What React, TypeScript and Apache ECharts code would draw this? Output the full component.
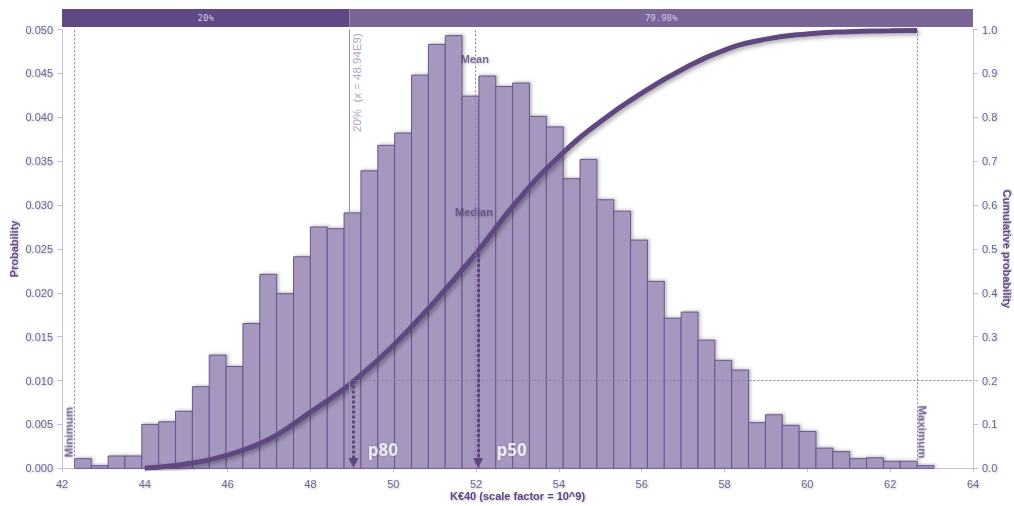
import React, { useEffect, useRef } from "react";
import * as echarts from "echarts";

// ---- data ----
const X_MIN = 42;
const X_MAX = 64;
const X_STEP = 2;
const BIN_START = 42.3;
const BIN_WIDTH = 0.407;
const probabilities = [
  0.0011, 0.0003, 0.0014, 0.0014, 0.005, 0.0053, 0.0065, 0.0093, 0.0129, 0.0116,
  0.0165, 0.0221, 0.0199, 0.0241, 0.0275, 0.0273, 0.0291, 0.0339, 0.0368, 0.0382,
  0.0448, 0.0483, 0.0493, 0.0424, 0.0447, 0.0435, 0.0439, 0.0401, 0.0389, 0.033,
  0.0352, 0.0306, 0.0293, 0.026, 0.0213, 0.0171, 0.0178, 0.0146, 0.0123, 0.0112,
  0.0052, 0.0061, 0.0049, 0.0042, 0.0023, 0.0019, 0.0011, 0.0012, 0.0008, 0.0008,
  0.0003,
];
const cdfX = [44, 44.5, 45, 45.5, 46, 46.5, 47, 47.5, 48, 48.5, 49, 50, 51, 52, 53, 54, 55, 56, 57, 58, 59, 60, 61, 62, 62.65];
const cdfY = [0, 0.004, 0.01, 0.018, 0.03, 0.046, 0.066, 0.095, 0.128, 0.16, 0.195, 0.28, 0.38, 0.49, 0.61, 0.71, 0.79, 0.855, 0.91, 0.953, 0.978, 0.99, 0.995, 0.997, 0.998];

const bandStarts = [42, 48.94];
const bandEnds = [48.94, 64];
const bandLabels = ["20%", "79.98%"];
const bandColors = ["#5f4883", "#7b6596"];

const MINIMUM = 42.3;
const MAXIMUM = 62.65;
const MEAN = 51.97;
const THRESHOLD_X = 48.94;
const THRESHOLD_P = 0.2;
const P80_X = 49.04;
const P50_X = 52.05;
const P50_P = 0.5;

const FONT = "'Liberation Sans', Arial, sans-serif";
const PURPLE = "#5e4680";
const LABEL_COLOR = "#6f6392";
const AXIS_COLOR = "#c6bed8";

const textShadow = {
  textShadowColor: "rgba(0,0,0,0.25)",
  textShadowBlur: 2,
  textShadowOffsetX: 1,
  textShadowOffsetY: 1,
};

function buildOption() {
  const binData = probabilities.map((v, i) => [
    BIN_START + i * BIN_WIDTH,
    BIN_START + (i + 1) * BIN_WIDTH,
    v,
  ]);
  const bandData = bandStarts.map((s, i) => [s, bandEnds[i], i]);
  const cdfData = cdfX.map((x, i) => [x, cdfY[i]]);

  return {
    animation: false,
    grid: [
      { left: 62, right: 41, top: 29.5, bottom: 37.7, outerBoundsMode: "none", containLabel: false },
      { left: 62, right: 41, top: 9, height: 18, outerBoundsMode: "none", containLabel: false },
    ],
    xAxis: [
      {
        type: "value",
        gridIndex: 0,
        min: X_MIN,
        max: X_MAX,
        interval: X_STEP,
        splitLine: { show: false },
        axisLine: { lineStyle: { color: AXIS_COLOR } },
        axisTick: { length: 4, lineStyle: { color: AXIS_COLOR } },
        axisLabel: { color: LABEL_COLOR, fontSize: 11, fontFamily: FONT, margin: 10, ...textShadow },
        name: "K€40 (scale factor = 10^9)",
        nameLocation: "middle",
        nameGap: 22,
        nameMoveOverlap: false,
        nameTextStyle: { color: PURPLE, fontSize: 11, fontWeight: "bold", fontFamily: FONT, ...textShadow },
      },
      { type: "value", gridIndex: 1, min: X_MIN, max: X_MAX, show: false },
    ],
    yAxis: [
      {
        type: "value",
        gridIndex: 0,
        position: "left",
        min: 0,
        max: 0.05,
        interval: 0.005,
        splitLine: { show: false },
        axisLine: { show: true, lineStyle: { color: AXIS_COLOR } },
        axisTick: { show: true, length: 5, lineStyle: { color: AXIS_COLOR } },
        axisLabel: {
          color: LABEL_COLOR,
          fontSize: 11,
          fontFamily: FONT,
          margin: 9,
          formatter: (v: number) => v.toFixed(3),
          ...textShadow,
        },
        name: "Probability",
        nameLocation: "middle",
        nameRotate: 90,
        nameGap: 43,
        nameMoveOverlap: false,
        nameTextStyle: { color: PURPLE, fontSize: 11, fontWeight: "bold", fontFamily: FONT, ...textShadow },
      },
      {
        type: "value",
        gridIndex: 0,
        position: "right",
        min: 0,
        max: 1,
        interval: 0.1,
        splitLine: { show: false },
        axisLine: { show: true, lineStyle: { color: AXIS_COLOR } },
        axisTick: { show: true, length: 5, lineStyle: { color: AXIS_COLOR } },
        axisLabel: {
          color: LABEL_COLOR,
          fontSize: 11,
          fontFamily: FONT,
          margin: 9,
          formatter: (v: number) => v.toFixed(1),
          ...textShadow,
        },
        name: "Cumulative probability",
        nameLocation: "middle",
        nameRotate: -90,
        nameGap: 29,
        nameMoveOverlap: false,
        nameTextStyle: { color: PURPLE, fontSize: 11, fontWeight: "bold", fontFamily: FONT, ...textShadow },
      },
      { type: "value", gridIndex: 1, min: 0, max: 1, show: false },
    ],
    series: [
      {
        type: "custom",
        xAxisIndex: 1,
        yAxisIndex: 2,
        data: bandData,
        encode: { x: [0, 1], y: 2 },
        renderItem: (params: any, api: any) => {
          const s = api.value(0);
          const e = api.value(1);
          const idx = api.value(2);
          const p0 = api.coord([s, 1]);
          const p1 = api.coord([e, 0]);
          return {
            type: "group",
            children: [
              {
                type: "rect",
                shape: { x: p0[0], y: p0[1], width: p1[0] - p0[0], height: p1[1] - p0[1] },
                style: { fill: bandColors[idx] },
              },
              {
                type: "text",
                style: {
                  text: bandLabels[idx],
                  x: (p0[0] + p1[0]) / 2,
                  y: (p0[1] + p1[1]) / 2,
                  align: "center",
                  verticalAlign: "middle",
                  fill: "#d2cae2",
                  fontSize: 9,
                  fontFamily: "'DejaVu Sans Mono', monospace",
                },
              },
            ],
          };
        },
      },
      {
        type: "custom",
        xAxisIndex: 0,
        yAxisIndex: 0,
        data: binData,
        encode: { x: [0, 1], y: 2 },
        renderItem: (params: any, api: any) => {
          const p0 = api.coord([api.value(0), api.value(2)]);
          const p1 = api.coord([api.value(1), 0]);
          return {
            type: "rect",
            shape: { x: p0[0], y: p0[1], width: p1[0] - p0[0], height: p1[1] - p0[1] },
            style: {
              fill: "#a597be",
              stroke: "#6b5590",
              lineWidth: 1,
              shadowColor: "rgba(60,60,60,0.3)",
              shadowBlur: 3,
              shadowOffsetX: 2,
              shadowOffsetY: -1,
            },
          };
        },
      },
      // reference lines (light dotted)
      {
        type: "scatter",
        xAxisIndex: 0,
        yAxisIndex: 1,
        data: [],
        markLine: {
          silent: true,
          symbol: "none",
          label: { show: false },
          lineStyle: { color: "#8a7aab", type: [2, 2], width: 1 },
          data: [
            { xAxis: MINIMUM },
            { xAxis: MAXIMUM },
            { xAxis: MEAN },
            [{ coord: [THRESHOLD_X, THRESHOLD_P] }, { coord: [X_MAX, THRESHOLD_P] }],
          ],
        },
      },
      // threshold solid line
      {
        type: "scatter",
        xAxisIndex: 0,
        yAxisIndex: 1,
        data: [],
        markLine: {
          silent: true,
          symbol: "none",
          label: { show: false },
          lineStyle: { color: "#9a90b4", type: "solid", width: 1 },
          data: [{ xAxis: THRESHOLD_X }],
        },
      },
      // cumulative curve
      {
        type: "line",
        xAxisIndex: 0,
        yAxisIndex: 1,
        data: cdfData,
        smooth: 0.5,
        showSymbol: false,
        lineStyle: {
          color: PURPLE,
          width: 5,
          shadowColor: "rgba(0,0,0,0.35)",
          shadowBlur: 4,
          shadowOffsetX: 2,
          shadowOffsetY: 2,
        },
      },
      // percentile arrows
      {
        type: "scatter",
        xAxisIndex: 0,
        yAxisIndex: 1,
        data: [],
        markLine: {
          silent: true,
          symbol: ["none", "triangle"],
          symbolSize: 10,
          label: { show: false },
          lineStyle: { color: PURPLE, type: [3, 2], width: 3 },
          data: [
            [{ coord: [P80_X, THRESHOLD_P] }, { coord: [P80_X, 0.012] }],
            [{ coord: [P50_X, P50_P] }, { coord: [P50_X, 0.012] }],
          ],
        },
      },
      // Mean / Median labels
      {
        type: "scatter",
        xAxisIndex: 0,
        yAxisIndex: 1,
        symbolSize: 0,
        data: [
          { value: [MEAN, 0.932], name: "Mean" },
          { value: [MEAN - 0.02, 0.583], name: "Median" },
        ],
        label: {
          show: true,
          position: "inside",
          formatter: "{b}",
          color: "#5a437c",
          fontSize: 11,
          fontWeight: "bold",
          fontFamily: FONT,
          ...textShadow,
        },
      },
      // p80 / p50 labels
      {
        type: "scatter",
        xAxisIndex: 0,
        yAxisIndex: 1,
        symbolSize: 0,
        data: [
          { value: [49.75, 0.042], name: "p80" },
          { value: [52.86, 0.042], name: "p50" },
        ],
        label: {
          show: true,
          position: "inside",
          formatter: "{b}",
          color: "#ffffff",
          fontSize: 17,
          fontWeight: "bold",
          fontFamily: "'Open Sans', sans-serif",
          textShadowColor: "rgba(0,0,0,0.3)",
          textShadowBlur: 2,
        },
      },
      // threshold rotated label (reads upwards)
      {
        type: "scatter",
        xAxisIndex: 0,
        yAxisIndex: 1,
        symbolSize: 0,
        data: [{ value: [49.12, 0.879], name: "20%  (x = 48.94E9)" }],
        label: {
          show: true,
          position: "inside",
          rotate: 90,
          formatter: "{b}",
          color: "#968db0",
          fontSize: 11.5,
          fontFamily: FONT,
        },
      },
      // Minimum label (reads upwards)
      {
        type: "scatter",
        xAxisIndex: 0,
        yAxisIndex: 1,
        symbolSize: 0,
        data: [{ value: [42.16, 0.082], name: "Minimum" }],
        label: {
          show: true,
          position: "inside",
          rotate: 90,
          formatter: "{b}",
          color: "#5a437c",
          fontSize: 11.5,
          fontWeight: "bold",
          fontFamily: FONT,
          ...textShadow,
        },
      },
      // Maximum label (reads downwards)
      {
        type: "scatter",
        xAxisIndex: 0,
        yAxisIndex: 1,
        symbolSize: 0,
        data: [{ value: [62.78, 0.083], name: "Maximum" }],
        label: {
          show: true,
          position: "inside",
          rotate: -90,
          formatter: "{b}",
          color: "#5a437c",
          fontSize: 11.5,
          fontWeight: "bold",
          fontFamily: FONT,
          ...textShadow,
        },
      },
    ],
  };
}

export default function App() {
  const ref = useRef<HTMLDivElement>(null);
  useEffect(() => {
    if (!ref.current) return;
    const chart = echarts.init(ref.current, null, { renderer: "svg" });
    chart.setOption(buildOption() as any);
    return () => chart.dispose();
  }, []);
  return (
    <div
      ref={ref}
      style={{ position: "absolute", left: 0, top: 0, width: 1014, height: 506, background: "#ffffff" }}
    />
  );
}
